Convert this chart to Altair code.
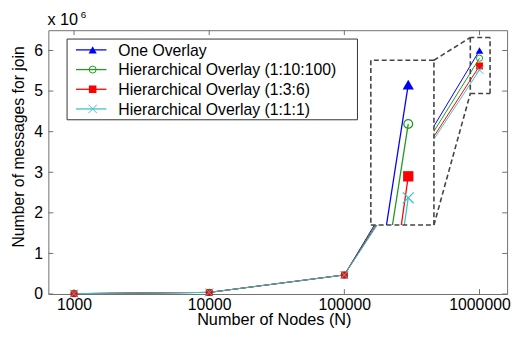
import altair as alt
import pandas as pd

# ---------------- data ----------------
nodes = [1000, 10000, 100000, 1000000]
series_names = [
    "One Overlay",
    "Hierarchical Overlay (1:10:100)",
    "Hierarchical Overlay (1:3:6)",
    "Hierarchical Overlay (1:1:1)",
]
one_overlay = [0.01, 0.04, 0.47, 6.00]
hier_1_10_100 = [0.01, 0.04, 0.47, 5.81]
hier_1_3_6 = [0.01, 0.04, 0.47, 5.62]
hier_1_1_1 = [0.01, 0.04, 0.47, 5.52]
series_values = [one_overlay, hier_1_10_100, hier_1_3_6, hier_1_1_1]

# magnified inset (values as drawn inside the dashed inset box)
inset_nodes = 297000
inset_values = [5.16, 4.19, 2.90, 2.37]
inset_entry_nodes = [205000, 227000, 264000, 278000]
inset_entry_value = 1.70

# extents of the inset box and of the zoomed region (data units)
inset_box_x = [157000, 460000]
inset_box_y = [1.70, 5.76]
zoom_box_x = [855000, 1197000]
zoom_box_y = [4.94, 6.32]

y_ticks = [0, 1, 2, 3, 4, 5, 6]

# ---------------- styles ----------------
W, H = 466, 268
FONT = "Liberation Sans"
AXIS_COLOR = "#707070"
colors = ["#0000FF", "#1f9a1f", "#FF0000", "#3cc4c4"]
XPATH = "M-1,-1L1,1M1,-1L-1,1"
shapes = ["triangle-up", "circle", "square", XPATH]
filled = [True, False, True, False]
main_sizes = [60, 40, 49, 64]
inset_sizes = [130, 80, 110, 121]

xs = alt.Scale(type="log", domain=[645.6, 1.6e6], nice=False)
ys = alt.Scale(domain=[0, 6.5], nice=False, zero=False)

x_axis = alt.Axis(
    values=nodes, format="d", ticks=False, domain=False, grid=False,
    labelFont=FONT, labelFontSize=16, labelColor="black", labelPadding=3,
    title="Number of Nodes (N)", titleFont=FONT, titleFontSize=16.5,
    titleFontWeight="normal", titleColor="black",
    titleX=229, titleY=31, titleAlign="center", titleBaseline="alphabetic",
)
y_axis = alt.Axis(
    values=y_ticks, format="d", ticks=False, domain=False, grid=False,
    labelFont=FONT, labelFontSize=16, labelColor="black", labelPadding=6,
    title="Number of messages for join", titleFont=FONT, titleFontSize=16,
    titleFontWeight="normal", titleColor="black",
    titleX=-25, titleY=118, titleAlign="center", titleBaseline="alphabetic",
    titleAngle=270,
)


def X(field):
    return alt.X(field, scale=xs, axis=x_axis)


def Y(field):
    return alt.Y(field, scale=ys, axis=y_axis)


layers = []

# main series
for i, name in enumerate(series_names):
    df = pd.DataFrame({"N": nodes, "v": series_values[i]})
    layers.append(
        alt.Chart(df).mark_line(color=colors[i], strokeWidth=1).encode(
            x=X("N:Q"), y=Y("v:Q"))
    )
for i, name in enumerate(series_names):
    df = pd.DataFrame({"N": nodes, "v": series_values[i]})
    layers.append(
        alt.Chart(df).mark_point(
            shape=shapes[i], filled=filled[i], color=colors[i],
            size=main_sizes[i], opacity=1, strokeWidth=1
        ).encode(x=X("N:Q"), y=Y("v:Q"))
    )

# white background of the inset box
box_df = pd.DataFrame({"N": [inset_box_x[0]], "N2": [inset_box_x[1]],
                       "v": [inset_box_y[0]], "v2": [inset_box_y[1]]})
layers.append(
    alt.Chart(box_df).mark_rect(color="white").encode(
        x=X("N:Q"), x2="N2:Q", y=Y("v:Q"), y2="v2:Q")
)

# inset (magnified) series
for i, name in enumerate(series_names):
    df = pd.DataFrame({"N": [inset_entry_nodes[i], inset_nodes],
                       "v": [inset_entry_value, inset_values[i]]})
    layers.append(
        alt.Chart(df).mark_line(color=colors[i], strokeWidth=1.3).encode(
            x=X("N:Q"), y=Y("v:Q"))
    )
for i, name in enumerate(series_names):
    df = pd.DataFrame({"N": [inset_nodes], "v": [inset_values[i]]})
    layers.append(
        alt.Chart(df).mark_point(
            shape=shapes[i], filled=filled[i], color=colors[i],
            size=inset_sizes[i], opacity=1, strokeWidth=1.3
        ).encode(x=X("N:Q"), y=Y("v:Q"))
    )

# dashed boxes and connectors
bx0, bx1 = inset_box_x
by0, by1 = inset_box_y
sx0, sx1 = zoom_box_x
sy0, sy1 = zoom_box_y
segs = [
    (bx0, by0, bx1, by0), (bx1, by0, bx1, by1), (bx1, by1, bx0, by1), (bx0, by1, bx0, by0),
    (sx0, sy0, sx1, sy0), (sx1, sy0, sx1, sy1), (sx1, sy1, sx0, sy1), (sx0, sy1, sx0, sy0),
    (bx1, by1, sx0, sy1), (bx1, by0, sx0, sy0),
]
seg_df = pd.DataFrame(segs, columns=["N", "v", "N2", "v2"])
layers.append(
    alt.Chart(seg_df).mark_rule(color="#444444", strokeWidth=1.6, strokeDash=[5, 3]).encode(
        x=X("N:Q"), x2="N2:Q", y=Y("v:Q"), y2="v2:Q")
)

# inward ticks on all four sides
xt_df = pd.DataFrame({"N": nodes})
yt_df = pd.DataFrame({"v": y_ticks})
TL = 5
layers.append(alt.Chart(xt_df).mark_rule(color=AXIS_COLOR).encode(
    x=X("N:Q"), y=alt.value(H), y2=alt.value(H - TL)))
layers.append(alt.Chart(xt_df).mark_rule(color=AXIS_COLOR).encode(
    x=X("N:Q"), y=alt.value(0), y2=alt.value(TL)))
layers.append(alt.Chart(yt_df).mark_rule(color=AXIS_COLOR).encode(
    y=Y("v:Q"), x=alt.value(0), x2=alt.value(TL)))
layers.append(alt.Chart(yt_df).mark_rule(color=AXIS_COLOR).encode(
    y=Y("v:Q"), x=alt.value(W), x2=alt.value(W - TL)))

# exponent label
layers.append(alt.Chart(pd.DataFrame({"t": ["x 10"]})).mark_text(
    font=FONT, fontSize=16.5, align="left", baseline="alphabetic", color="black"
).encode(x=alt.value(-1), y=alt.value(-5), text="t:N"))
layers.append(alt.Chart(pd.DataFrame({"t": ["6"]})).mark_text(
    font=FONT, fontSize=10, align="left", baseline="alphabetic", color="black"
).encode(x=alt.value(33), y=alt.value(-12), text="t:N"))

# legend
layers.append(alt.Chart(pd.DataFrame({"a": [0]})).mark_rect(
    fill="white", stroke="#333333", strokeWidth=1
).encode(x=alt.value(19), x2=alt.value(314), y=alt.value(9), y2=alt.value(91)))
for i, name in enumerate(series_names):
    ly = 20 + 20 * i
    ldf = pd.DataFrame({"label": [name]})
    layers.append(alt.Chart(ldf).mark_rule(color=colors[i], strokeWidth=1.3).encode(
        x=alt.value(28), x2=alt.value(59), y=alt.value(ly)))
    layers.append(alt.Chart(ldf).mark_point(
        shape=shapes[i], filled=filled[i], color=colors[i],
        size=main_sizes[i] + 10, opacity=1, strokeWidth=1
    ).encode(x=alt.value(45), y=alt.value(ly)))
    layers.append(alt.Chart(ldf).mark_text(
        font=FONT, fontSize=16, align="left", baseline="middle", color="black"
    ).encode(x=alt.value(71), y=alt.value(ly + 1), text="label:N"))

chart = alt.layer(*layers).properties(
    width=W, height=H,
    autosize=alt.AutoSizeParams(type="none"),
    padding={"left": 41, "top": 20, "right": 6, "bottom": 34},
    background="white",
).configure_view(stroke=AXIS_COLOR, strokeWidth=1)

chart.save("out.html", embed_options={"renderer": "svg", "actions": False})
